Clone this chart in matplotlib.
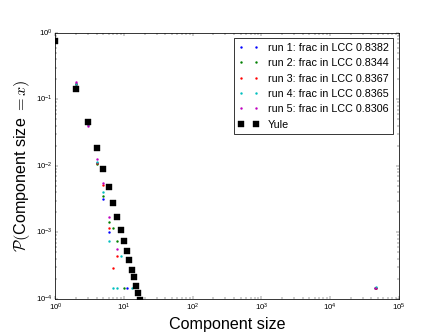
import matplotlib
matplotlib.use("Agg")
import matplotlib.pyplot as plt

plt.style.use('classic')
plt.rcParams['font.family'] = ['Liberation Sans', 'DejaVu Sans']
plt.rcParams['mathtext.fontset'] = 'cm'

# component size distributions
run1_x = [1, 2, 3, 4, 5, 6, 11, 46100]
run1_y = [0.77, 0.17, 0.043, 0.011, 0.0032, 0.00102, 0.000145, 0.000145]
run2_x = [1, 2, 3, 4, 5, 6, 7, 8, 10, 45890]
run2_y = [0.77, 0.17, 0.043, 0.0105, 0.0035, 0.00144, 0.00118, 0.00073, 0.000145, 0.000145]
run3_x = [1, 2, 3, 4, 5, 6, 7, 8, 46020]
run3_y = [0.77, 0.17, 0.043, 0.011, 0.0051, 0.00118, 0.00029, 0.00044, 0.000145]
run4_x = [1, 2, 3, 4, 5, 6, 7, 8, 9, 13, 46010]
run4_y = [0.77, 0.17, 0.043, 0.0115, 0.0041, 0.00073, 0.000145, 0.000145, 0.00044, 0.000145, 0.00015]
run5_x = [1, 2, 3, 4, 5, 6, 8, 45680]
run5_y = [0.77, 0.18, 0.040, 0.0125, 0.0055, 0.0017, 0.00057, 0.000143]

runs = [(run1_x, run1_y, 'b', 0.8382), (run2_x, run2_y, 'g', 0.8344),
        (run3_x, run3_y, 'r', 0.8367), (run4_x, run4_y, 'c', 0.8365),
        (run5_x, run5_y, 'm', 0.8306)]

yule_x = list(range(1, 18))
yule_y = [0.77, 0.145, 0.0454, 0.0186, 0.0089, 0.0048, 0.00276, 0.0017, 0.0011,
          0.00074, 0.00052, 0.00038, 0.000275, 0.00021, 0.000158, 0.000122, 0.0000975]

fig = plt.figure(figsize=(8, 6), dpi=55.375)
ax = fig.add_subplot(111)

for i, (xs, ys, c, frac) in enumerate(runs):
    ax.loglog(xs, ys, c + '.', markeredgecolor=c, markersize=5,
              label='run %d: frac in LCC %.4f' % (i + 1, frac))
ax.loglog(yule_x, yule_y, 'ks', markersize=7, label='Yule')

ax.set_xlim(1, 1e5)
ax.set_ylim(1e-4, 1)
ax.tick_params(labelsize=10)
ax.set_xlabel('Component size', fontsize=21)
ax.set_ylabel(r'$\mathcal{P}($Component size $= x)$', fontsize=21)
ax.legend(loc='upper right', numpoints=2, fontsize=14)

fig.savefig('out.png', dpi=55.375)
